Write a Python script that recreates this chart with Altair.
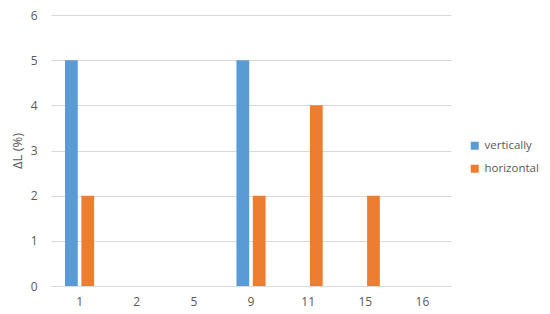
import altair as alt
import pandas as pd

categories = ["1", "2", "5", "9", "11", "15", "16"]
vertically = [5, 0, 0, 5, 0, 0, 0]
horizontal = [2, 0, 0, 2, 4, 2, 0]
series = ["vertically", "horizontal"]
colors = ["#5B9BD5", "#ED7D31"]

rows = []
for c, v, h in zip(categories, vertically, horizontal):
    rows.append({"cat": c, "series": "vertically", "value": v})
    rows.append({"cat": c, "series": "horizontal", "value": h})
df = pd.DataFrame(rows)

font = "Open Sans"

chart = alt.Chart(df).mark_bar().encode(
    x=alt.X("cat:N", sort=categories, title=None,
            scale=alt.Scale(paddingInner=0.49, paddingOuter=0.245),
            axis=alt.Axis(labelAngle=0, ticks=False, domainColor="#D9D9D9",
                          labelColor="#595959", labelFontSize=12, labelFont=font,
                          labelPadding=10)),
    xOffset=alt.XOffset("series:N", sort=series, scale=alt.Scale(paddingInner=0.22)),
    y=alt.Y("value:Q", title="ΔL (%)", scale=alt.Scale(domain=[0, 6]),
            axis=alt.Axis(values=[0, 1, 2, 3, 4, 5, 6], domain=False, ticks=False,
                          gridColor="#D9D9D9", labelColor="#595959", labelFontSize=12,
                          labelFont=font, labelPadding=14, titleColor="#595959",
                          titleFontSize=13, titleFont=font, titleFontWeight="normal",
                          titlePadding=6)),
    color=alt.Color("series:N", sort=series,
                    scale=alt.Scale(domain=series, range=colors),
                    legend=alt.Legend(title=None, orient="none", legendX=418, legendY=125,
                                      symbolType="square", symbolSize=64,
                                      symbolStrokeWidth=0, labelFontSize=11.5,
                                      labelFont=font, labelColor="#595959",
                                      labelOffset=4, rowPadding=10)),
).properties(
    width=400, height=271,
    padding={"left": 43, "top": 7, "right": 91, "bottom": 26},
    autosize=alt.AutoSizeParams(type="none"),
).configure_view(stroke=None).configure_axis(gridWidth=1)

chart.save("out.html", embed_options={"renderer": "svg", "actions": False})
